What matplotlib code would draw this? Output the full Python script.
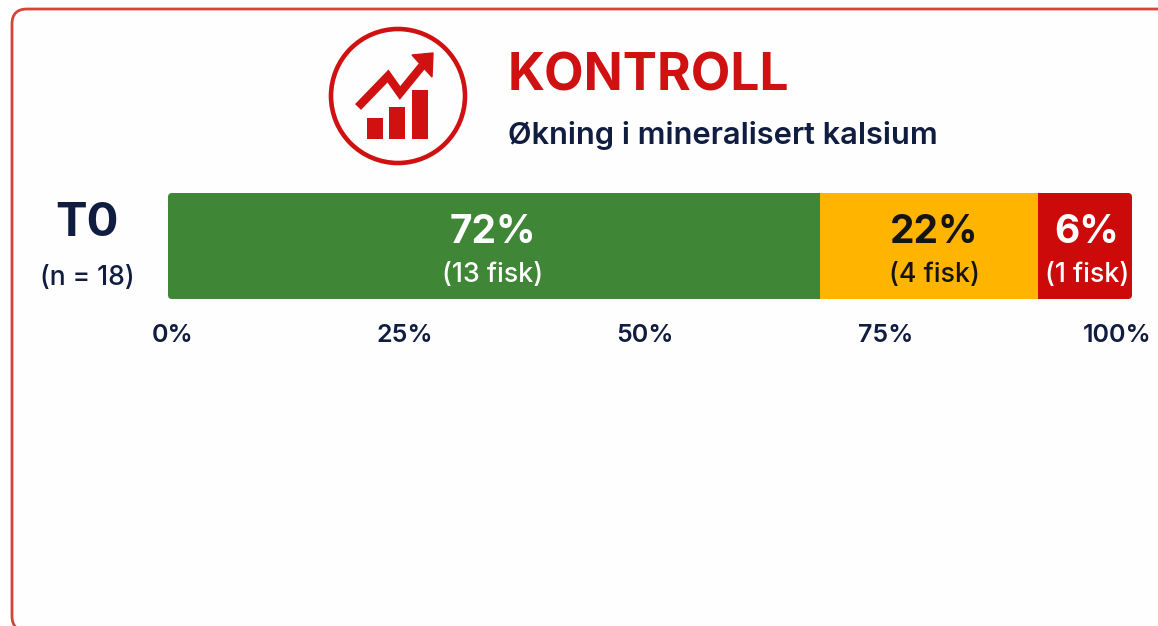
from matplotlib import pyplot
from matplotlib.patches import Circle, FancyBboxPatch, Polygon, Rectangle

segments = [67.6, 22.6, 9.8]   # drawn widths, they do not follow the printed percentages
percent_labels = ['72%', '22%', '6%']
fish_labels = ['(13 fisk)', '(4 fisk)', '(1 fisk)']
colors = ['#3f8736', '#ffb400', '#cc0a0a']
text_colors = ['white', '#141414', 'white']
label_centers = [33.7, 79.5, 95.3]
tick_positions = [0.5, 24.6, 49.5, 74.5, 98.5]
tick_labels = ['0%', '25%', '50%', '75%', '100%']
icon_bars = [21, 32, 49]

W, H = 1158, 626
NAVY = '#101c40'
RED = '#cf1111'

pyplot.rcParams['font.family'] = ['Inter', 'DejaVu Sans']

fig = pyplot.figure(figsize=(W / 100, H / 100), dpi=100)

# overlay in pixel coordinates for frame, icon and headings
bg = fig.add_axes([0, 0, 1, 1])
bg.set_xlim(0, W)
bg.set_ylim(H, 0)
bg.axis('off')
bg.add_patch(FancyBboxPatch((12, 9), W + 20, 622, boxstyle='round,pad=0,rounding_size=15',
                            fc='#fefefe', ec='#d9423a', lw=2))

bg.add_patch(Circle((398, 96), 67, fc='none', ec=RED, lw=3.3))
for x, h in zip((367, 389, 412), icon_bars):
    bg.add_patch(Rectangle((x, 139 - h), 15.5, h, fc=RED, ec='none'))
bg.plot([358, 388, 400, 422], [107, 76, 93, 66], color=RED, lw=6, solid_capstyle='butt', solid_joinstyle='miter')
bg.add_patch(Polygon([(412, 55), (433, 53), (432, 77)], fc=RED, ec=RED, lw=1))

bg.text(508, 77, 'KONTROLL', color=RED, fontsize=37, fontweight='bold', va='center', ha='left')
bg.text(508, 136, 'Økning i mineralisert kalsium', color=NAVY, fontsize=22.2, fontweight='semibold', va='center', ha='left')
bg.text(87, 224, 'T0', color=NAVY, fontsize=34, fontweight='bold', va='center', ha='center')
bg.text(87, 278, '(n = 18)', color=NAVY, fontsize=19, fontweight='medium', va='center', ha='center')

ax = fig.add_axes([168 / W, 1 - 299 / H, 964 / W, 106 / H])
clip = FancyBboxPatch((168, 193), 964, 106, boxstyle='round,pad=0,rounding_size=4', transform=bg.transData)
left = 0
for seg, pct, fish, c, tc, mid in zip(segments, percent_labels, fish_labels, colors, text_colors, label_centers):
    bars = ax.barh(0, seg, left=left, height=1, color=c)
    bars[0].set_clip_path(clip)
    ax.text(mid, 0.13, pct, color=tc, fontsize=28, fontweight='bold', ha='center', va='center')
    ax.text(mid, -0.27, fish, color=tc, fontsize=19.3, fontweight='medium', ha='center', va='center')
    left += seg
ax.set_xlim(0, 100)
ax.set_ylim(-0.5, 0.5)
ax.set_yticks([])
ax.set_xticks(tick_positions)
ax.set_xticklabels(tick_labels, color=NAVY, fontsize=18, fontweight='semibold')
ax.tick_params(axis='x', length=0, pad=18)
for s in ax.spines.values():
    s.set_visible(False)

fig.savefig('out.png', dpi=100)
